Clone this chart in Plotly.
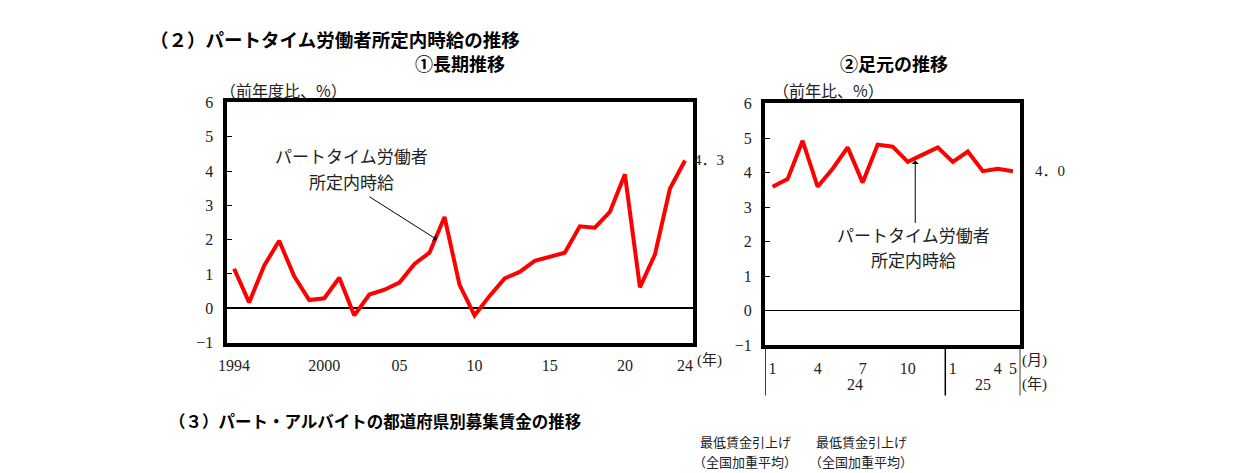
import plotly.graph_objects as go

# (1) long-term, fiscal-year change (%)
years = list(range(1994, 2025))
long_vals = [1.15, 0.17, 1.24, 1.97, 0.93, 0.24, 0.29, 0.89, -0.21, 0.40,
             0.54, 0.75, 1.29, 1.62, 2.66, 0.68, -0.21, 0.36, 0.87, 1.06,
             1.38, 1.50, 1.62, 2.39, 2.35, 2.81, 3.91, 0.61, 1.57, 3.49, 4.31]
year_tickvals = [1994, 2000, 2005, 2010, 2015, 2020, 2024]
year_ticktext = ["1994", "2000", "05", "10", "15", "20", "24"]

# (2) recent months, y/y change (%)
months = [1, 2, 3, 4, 5, 6, 7, 8, 9, 10, 11, 12, 1, 2, 3, 4, 5]
month_years = [24] * 12 + [25] * 5
recent_vals = [3.59, 3.81, 4.92, 3.59, 4.11, 4.73, 3.71, 4.81, 4.75, 4.31,
               4.52, 4.73, 4.31, 4.61, 4.04, 4.11, 4.04]
month_shown = [0, 3, 6, 9, 12, 15, 16]

W, H = 1234, 473
SERIF = "Liberation Serif, Noto Sans CJK JP"
SANS = "Noto Sans CJK JP"
RED = "#ff0000"


def px(x):
    return x / W


def py(y):
    return 1 - y / H


fig = go.Figure()
fig.add_trace(go.Scatter(x=years, y=long_vals, mode="lines",
                         line=dict(color=RED, width=4), xaxis="x", yaxis="y",
                         showlegend=False, hoverinfo="skip"))
idx = list(range(len(recent_vals)))
fig.add_trace(go.Scatter(x=idx, y=recent_vals, mode="lines",
                         line=dict(color=RED, width=4), xaxis="x2", yaxis="y2",
                         showlegend=False, hoverinfo="skip"))

box = dict(showline=True, linecolor="black", linewidth=4, mirror=True,
           showgrid=False, fixedrange=True)
tickfont = dict(family=SERIF, size=16, color="#222")
yax = dict(box, range=[-1, 6], dtick=1, ticks="inside", ticklen=5,
           tickcolor="black", tickfont=tickfont,
           zeroline=True, zerolinecolor="black", ticklabelstandoff=6)

fig.update_layout(
    width=W, height=H,
    margin=dict(l=0, r=0, t=0, b=0),
    paper_bgcolor="white", plot_bgcolor="white",
    xaxis=dict(box, domain=[px(220), px(689)], range=[1993.5, 2024.5],
               tickvals=year_tickvals, ticktext=year_ticktext, ticks="",
               tickfont=tickfont, zeroline=False, ticklabelstandoff=5),
    yaxis=dict(yax, domain=[py(347), py(98)], anchor="x", zerolinewidth=2),
    xaxis2=dict(box, domain=[px(762), px(1019)], range=[-0.5, len(months) - 0.5],
                tickvals=month_shown, ticktext=[str(months[i]) for i in month_shown],
                ticks="", tickfont=tickfont, zeroline=False, anchor="y2",
                ticklabelstandoff=5),
    yaxis2=dict(yax, domain=[py(350), py(99)], anchor="x2", zerolinewidth=1),
)

ann = []


def text(x, y, s, size=15, family=SANS, anchor="left", bold=False, color="#222",
         xref="paper", yref="paper"):
    ann.append(dict(x=x, y=y, xref=xref, yref=yref, text=s, showarrow=False,
                    xanchor=anchor, yanchor="middle",
                    font=dict(family=family, size=size, color=color,
                              weight="bold" if bold else "normal")))


text(px(141), py(32), "（２）パートタイム労働者所定内時給の推移", size=18.5, bold=True, color="black")
text(px(455), py(57), "①長期推移", size=18, bold=True, anchor="center", color="black")
text(px(892), py(57), "②足元の推移", size=18, bold=True, anchor="center", color="black")
text(px(211), py(85), "（前年度比、%）", size=16)
text(px(768), py(85), "（前年比、%）", size=16)
text(px(691), py(366), "(年)", size=15, family=SERIF)
text(px(1019), py(366), "(月)", size=15, family=SERIF)
text(px(1019), py(391), "(年)", size=15, family=SERIF)

# year row under the monthly axis
for yr in sorted(set(month_years)):
    pos = [i for i, v in enumerate(month_years) if v == yr]
    text((pos[0] + pos[-1]) / 2, py(391), str(yr), size=16, family=SERIF,
         anchor="center", xref="x2")

# end-value labels
text(years[-1], long_vals[-1], "4．3", size=15, family=SERIF, xref="x", yref="y")
ann[-1]["xshift"] = 7
text(idx[-1], recent_vals[-1], "4．0", size=15, family=SERIF, xref="x2", yref="y2")
ann[-1]["xshift"] = 20

# series labels with arrows
text(2001.8, 4.45, "パートタイム労働者", size=17, anchor="center", xref="x", yref="y")
text(2001.8, 3.7, "所定内時給", size=17, anchor="center", xref="x", yref="y")
ann.append(dict(x=2007.5, y=2.0, xref="x", yref="y", ax=2002.9, ay=3.28,
                axref="x", ayref="y", text="", showarrow=True, arrowhead=1,
                arrowsize=1.2, arrowwidth=1, arrowcolor="black"))
text(9.4, 2.2, "パートタイム労働者", size=17, anchor="center", xref="x2", yref="y2")
text(9.4, 1.5, "所定内時給", size=17, anchor="center", xref="x2", yref="y2")
ann.append(dict(x=9.5, y=4.35, xref="x2", yref="y2", ax=9.5, ay=2.5,
                axref="x2", ayref="y2", text="", showarrow=True, arrowhead=1,
                arrowsize=1.2, arrowwidth=1, arrowcolor="black"))

# next section heading (its second line runs off the bottom, as in the source)
text(px(160), py(428), "（３）パート・アルバイトの都道府県別募集賃金の推移", size=16.5, bold=True, color="black")
for cx in (742, 859):
    text(px(cx), py(450), "最低賃金引上げ", size=13, anchor="center")
    text(px(cx), py(470), "（全国加重平均）", size=13, anchor="center")

fig.update_layout(annotations=ann)

# separators between the month / year label rows
for xv in [-0.5, month_years.index(25) - 0.5, len(months) - 0.5]:
    fig.add_shape(type="line", xref="x2", yref="paper", x0=xv, x1=xv,
                  y0=py(351), y1=py(402), line=dict(color="black", width=1.5))

fig.write_html("out.html", config={"displayModeBar": False},
               post_script="document.body.style.margin='0';")
